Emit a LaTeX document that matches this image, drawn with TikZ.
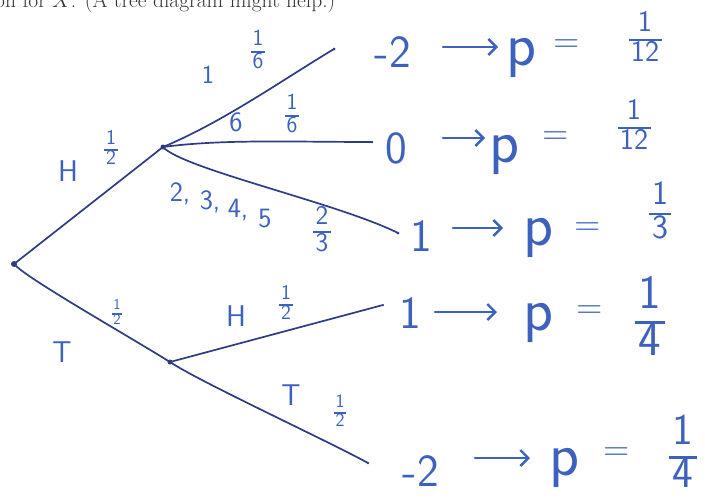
\documentclass[tikz,border=0pt]{standalone}
\usetikzlibrary{arrows.meta}
\definecolor{ink}{RGB}{60,98,190}
\definecolor{navy}{RGB}{46,60,133}
\newcommand{\hf}[2]{\sffamily\renewcommand{\arraystretch}{0.82}\setlength{\arrayrulewidth}{0.07em}\begin{tabular}{@{\hspace{0.08em}}c@{\hspace{0.08em}}}#1\\\hline #2\end{tabular}}
\tikzset{
  branch/.style={draw=navy, line width=1.7pt, line cap=round},
  dot/.style={circle, fill=navy, inner sep=0pt, minimum size=#1},
  hand/.style={text=ink, inner sep=0pt, font=\sffamily\fontsize{#1}{#1}\selectfont},
  lab/.style={hand=30},
  frs/.style={text=ink, inner sep=0pt, font=\fontsize{#1}{#1}\selectfont},
  val/.style={hand=46},
  pp/.style={hand=62},
  eq/.style={hand=36},
  arr/.style={draw=ink, line width=2.4pt, line cap=round, -{Straight Barb[length=8pt,width=16pt,line width=2.4pt]}},
}
\begin{document}
\begin{tikzpicture}[x=1pt,y=-1pt]
\useasboundingbox (0,0) rectangle (705,501);
% cut-off printed line at the top
\node[anchor=base west, inner sep=0pt, text=black!80, font=\fontsize{21.5}{24}\selectfont] (hdr) at (-5,7) {on for $X$. (A tree diagram might help.)};

% tree nodes
\node[dot=6pt] (root) at (14,264) {};
\node[dot=5pt] (nH) at (163,147) {};
\node[dot=5pt] (nT) at (170,362) {};
\node[dot=3pt] (L1) at (334,49) {};
\node[dot=2.5pt] (L2) at (372,142) {};
\node[dot=3pt] (L3) at (398,233) {};
\node[dot=2pt] (L4) at (383,305) {};
\node[dot=2.5pt] (L5) at (368,463) {};

% branches
\draw[branch] (root.center) -- (nH.center);
\draw[branch] (root.center) .. controls +(12,14) and +(-45,-28) .. (nT.center);
\draw[branch] (nH.center) .. controls +(60,-25) and +(-50,30) .. (L1.center);
\draw[branch] (nH.center) .. controls +(60,-8) and +(-80,0) .. (L2.center);
\draw[branch] (nH.center) .. controls +(20,22) and +(-60,-30) .. (L3.center);
\draw[branch] (nT.center) -- (L4.center);
\draw[branch] (nT.center) .. controls +(30,20) and +(-40,-22) .. (L5.center);

% branch labels
\node[lab] (tH) at (68,171) {H};
\node[frs=21] (tHp) at (111,150) {\hf{1}{2}};
\node[hand=26] (t1) at (208,75) {1};
\node[frs=23] (t1p) at (258,52) {\hf{1}{6}};
\node[hand=28] (t6) at (236,122) {6};
\node[frs=23] (t6p) at (292,116) {\hf{1}{6}};
\node[hand=28] (t2) at (180,194) {2,};
\node[hand=28] (t3) at (210,202) {3,};
\node[hand=28] (t4) at (238,210) {4,};
\node[hand=28] (t5) at (265,219) {5};
\node[frs=27] (t25p) at (322,232) {\hf{2}{3}};
\node[lab] (tT) at (62,352) {T};
\node[frs=15] (tTp) at (117,314) {\hf{1}{2}};
\node[lab] (tTH) at (236,316) {H};
\node[frs=21] (tTHp) at (286,305) {\hf{1}{2}};
\node[lab] (tTT) at (291,395) {T};
\node[frs=19] (tTTp) at (340,413) {\hf{1}{2}};

% outcomes
\node[val] (v1) at (393,52) {-2};
\coordinate (a1s) at (443,47); \coordinate (a1e) at (498,47);
\draw[arr] (a1s) -- (a1e);
\node[pp] (p1) at (522,58) {p};
\node[eq] (e1) at (567,46) {=};
\node[frs=30] (f1) at (645,40) {\hf{1}{12}};

\node[val] (v2) at (396,148) {0};
\coordinate (a2s) at (443,138); \coordinate (a2e) at (485,138);
\draw[arr] (a2s) -- (a2e);
\node[pp] (p2) at (505,155) {p};
\node[eq] (e2) at (556,138) {=};
\node[frs=30] (f2) at (634,128) {\hf{1}{12}};

\node[val] (v3) at (421,236) {1};
\coordinate (a3s) at (453,228); \coordinate (a3e) at (503,228);
\draw[arr] (a3s) -- (a3e);
\node[pp] (p3) at (539,238) {p};
\node[eq] (e3) at (588,229) {=};
\node[frs=34] (f3) at (660,214) {\hf{1}{3}};

\node[val] (v4) at (410,313) {1};
\coordinate (a4s) at (435,312); \coordinate (a4e) at (497,312);
\draw[arr] (a4s) -- (a4e);
\node[pp] (p4) at (539,323) {p};
\node[eq] (e4) at (590,312) {=};
\node[frs=48] (f4) at (650,322) {\hf{1}{4}};

\node[val] (v5) at (421,471) {-2};
\coordinate (a5s) at (475,458); \coordinate (a5e) at (530,458);
\draw[arr] (a5s) -- (a5e);
\node[pp] (p5) at (564,468) {p};
\node[eq] (e5) at (617,454) {=};
\node[frs=44] (f5) at (683,457) {\hf{1}{4}};
\end{tikzpicture}
\end{document}
